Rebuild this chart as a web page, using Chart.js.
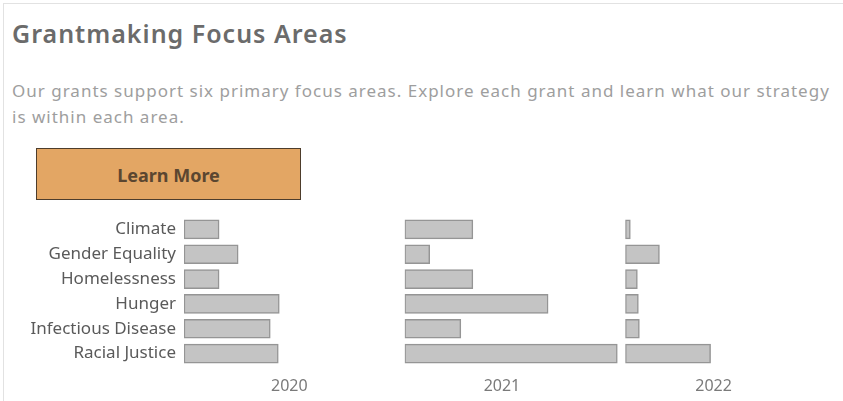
<!DOCTYPE html>
<html>
<head>
<meta charset="utf-8">
<title>Grantmaking Focus Areas</title>
<script src="https://cdn.jsdelivr.net/npm/chart.js@4.4.1/dist/chart.umd.min.js"></script>
<style>
  html, body { margin: 0; padding: 0; background: #fff; overflow: hidden; }
  body { width: 843px; height: 401px; position: relative; font-family: "Noto Sans", sans-serif; }
  .card { position: absolute; left: 3px; top: 3px; width: 900px; height: 420px;
          border-top: 1px solid #e2e2e2; border-left: 1px solid #e2e2e2; }
  h1 { position: absolute; left: 12px; top: 16px; margin: 0; font-size: 25px; font-weight: 600;
       letter-spacing: 1px; color: #6b6b6b; }
  .intro { position: absolute; left: 12px; top: 78px; width: 828px; margin: 0;
           font-size: 17px; line-height: 26px; letter-spacing: 1px; color: #9e9e9e; }
  .btn { position: absolute; left: 36px; top: 148px; width: 265px; height: 52px; box-sizing: border-box;
         background: #e3a664; border: 1.5px solid #4d3d2c; color: #5b4630;
         font-size: 18px; font-weight: 700; text-align: center; line-height: 52px; }
  .chart-wrap { position: absolute; left: 0; top: 205px; }
</style>
</head>
<body>
<div class="card"></div>
<h1>Grantmaking Focus Areas</h1>
<p class="intro">Our grants support six primary focus areas. Explore each grant and learn what our strategy is within each area.</p>
<div class="btn">Learn More</div>
<div class="chart-wrap"><canvas id="focusChart" width="846" height="196"></canvas></div>

<script>
// Data
const categories = ['Climate', 'Gender Equality', 'Homelessness', 'Hunger', 'Infectious Disease', 'Racial Justice'];
const years = ['2020', '2021', '2022'];
const values2020 = [35, 54, 35, 95, 86, 94];
const values2021 = [68, 25, 68, 143, 56, 212];
const values2022 = [5, 34, 12, 13, 14, 85];
const axisMax = 220;
// where each year header sits along its pane (axis units)
const yearLabelAt = [105, 97, 88];

const seriesByYear = [values2020, values2021, values2022];

const noPadding = scale => {
    scale.paddingTop = 0;
    scale.paddingBottom = 0;
    scale.paddingLeft = 0;
    scale.paddingRight = 0;
};

const scales = {
    y: {
        type: 'category',
        position: 'left',
        grid: { display: false, drawTicks: false },
        border: { display: false },
        ticks: { color: '#5a5a5a', font: { family: 'Noto Sans', size: 17 }, padding: 8 },
        afterFit: scale => {
            scale.width = 184;
            noPadding(scale);
        }
    }
};

// one x axis per year, stacked side by side along the bottom
years.forEach((year, i) => {
    scales['x' + year] = {
        type: 'linear',
        axis: 'x',
        position: 'bottom',
        stack: 'years',
        stackWeight: 1,
        min: 0,
        max: axisMax,
        grid: { display: false, drawTicks: false },
        border: { display: false },
        afterBuildTicks: scale => { scale.ticks = [{ value: yearLabelAt[i] }]; },
        afterFit: scale => {
            scale.height = 35;
            noPadding(scale);
        },
        ticks: {
            autoSkip: false,
            maxRotation: 0,
            color: '#7a7a7a',
            font: { family: 'Noto Sans', size: 16 },
            padding: 11,
            callback: () => year
        }
    };
});

const ctx = document.getElementById('focusChart').getContext('2d');
const focusChart = new Chart(ctx, {
    type: 'bar',
    data: {
        labels: categories,
        datasets: years.map((year, i) => ({
            label: year,
            data: seriesByYear[i],
            xAxisID: 'x' + year,
            grouped: false,
            barThickness: 19,
            backgroundColor: '#c4c4c4',
            borderColor: '#959595',
            borderWidth: 1.5,
            borderSkipped: false
        }))
    },
    options: {
        indexAxis: 'y',
        responsive: false,
        animation: false,
        devicePixelRatio: 1,
        layout: { padding: { top: 12, right: 0, bottom: 0, left: 0 } },
        plugins: {
            legend: { display: false },
            tooltip: { enabled: true }
        },
        scales: scales
    }
});
</script>
</body>
</html>
